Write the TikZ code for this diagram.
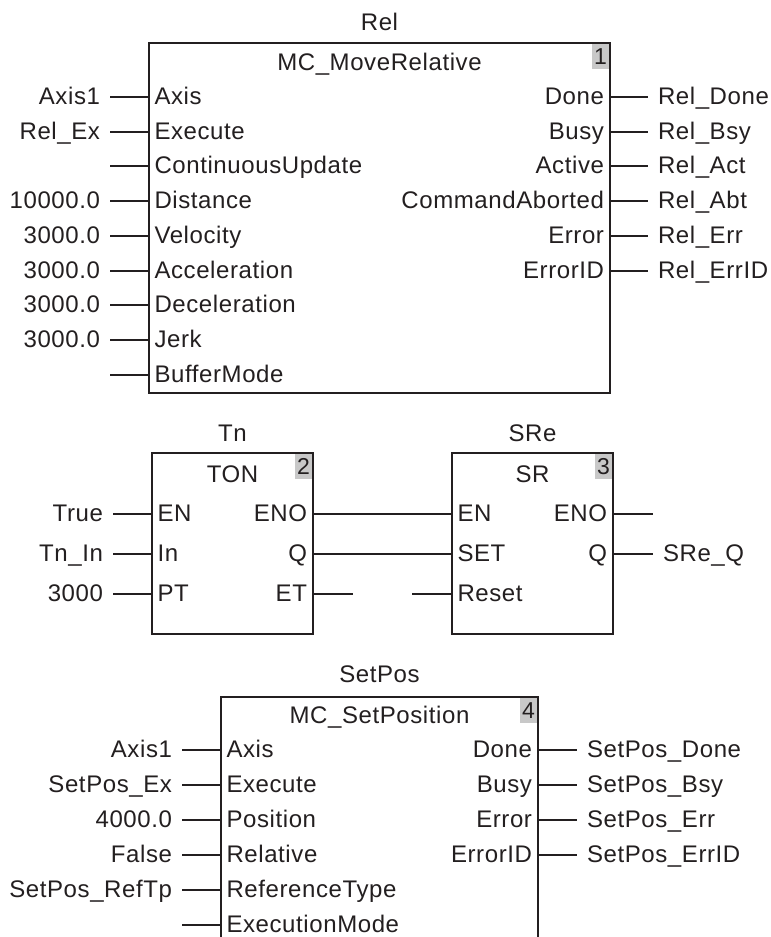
\documentclass[tikz,border=0pt]{standalone}
\usepackage{fontspec}
\setmainfont{Liberation Sans}[LetterSpace=2.5]
\usetikzlibrary{calc}
\definecolor{ink}{HTML}{231F20}
\definecolor{numgray}{HTML}{C8C8C8}
\newcommand\portL[3]{%
  \coordinate (#1-L#2) at (#1.west |- 0,#2);
  \node[lbl, anchor=base west] (#1-Lt#2) at ($(#1-L#2)+(5.5,7)$) {#3};}
\newcommand\portR[3]{%
  \coordinate (#1-R#2) at (#1.east |- 0,#2);
  \node[lbl, anchor=base east] (#1-Rt#2) at ($(#1-R#2)+(-6,7)$) {#3};}
\newcommand\pinL[5]{%
  \portL{#1}{#2}{#3}
  \coordinate (#1-Ls#2) at ($(#1-L#2)+(-#5,0)$);
  \node[lbl, anchor=base east] (#1-Lo#2) at ($(#1-Ls#2)+(-10,7)$) {#4};
  \draw[stub] (#1-L#2) -- (#1-Ls#2);}
\newcommand\pinR[5]{%
  \portR{#1}{#2}{#3}
  \coordinate (#1-Rs#2) at ($(#1-R#2)+(#5,0)$);
  \node[lbl, anchor=base west] (#1-Ro#2) at ($(#1-Rs#2)+(10,7)$) {#4};
  \draw[stub] (#1-R#2) -- (#1-Rs#2);}
\begin{document}
\begin{tikzpicture}[x=1pt,y=-1pt,
  lbl/.style={inner sep=0pt, outer sep=0pt, text=ink, font=\fontsize{24}{28}\selectfont},
  fb/.style={draw=ink, line width=1.6pt, inner sep=0pt, outer sep=0pt, anchor=north west},
  stub/.style={draw=ink, line width=1.3pt},
  num/.style={fill=numgray, minimum width=17.5pt, minimum height=25pt, inner sep=0pt, outer sep=0pt,
    anchor=north east, text=ink, font=\fontsize{23}{26}\selectfont}]
\useasboundingbox (0,0) rectangle (771,937);
\fill[white] (0,0) rectangle (771,937);
\clip (0,0) rectangle (771,937);

% ---- Block 1: MC_MoveRelative
\node[fb, minimum width=461pt, minimum height=350pt] (B1) at (149,43) {};
\node[num] (B1n) at ($(B1.north east)+(-0.8,0.8)$) {1};
\node[lbl, anchor=base] (B1title) at ($(B1.north)+(0,-13)$) {Rel};
\node[lbl, anchor=base] (B1type) at ($(B1.north)+(0,27)$) {MC\_MoveRelative};
\pinL{B1}{97}{Axis}{Axis1}{39}
\pinL{B1}{132}{Execute}{Rel\_Ex}{39}
\pinL{B1}{166}{ContinuousUpdate}{}{39}
\pinL{B1}{201}{Distance}{10000.0}{39}
\pinL{B1}{236}{Velocity}{3000.0}{39}
\pinL{B1}{271}{Acceleration}{3000.0}{39}
\pinL{B1}{305}{Deceleration}{3000.0}{39}
\pinL{B1}{340}{Jerk}{3000.0}{39}
\pinL{B1}{375}{BufferMode}{}{39}
\pinR{B1}{97}{Done}{Rel\_Done}{38}
\pinR{B1}{132}{Busy}{Rel\_Bsy}{38}
\pinR{B1}{166}{Active}{Rel\_Act}{38}
\pinR{B1}{201}{CommandAborted}{Rel\_Abt}{38}
\pinR{B1}{236}{Error}{Rel\_Err}{38}
\pinR{B1}{271}{ErrorID}{Rel\_ErrID}{38}

% ---- Block 2: TON
\node[fb, minimum width=161pt, minimum height=181pt] (TON) at (152,453) {};
\node[num] (TONn) at ($(TON.north east)+(-0.8,0.8)$) {2};
\node[lbl, anchor=base] (TONtitle) at ($(TON.north)+(0,-12)$) {Tn};
\node[lbl, anchor=base] (TONtype) at ($(TON.north)+(0,29)$) {TON};
\pinL{TON}{514}{EN}{True}{39}
\pinL{TON}{554}{In}{Tn\_In}{39}
\pinL{TON}{594}{PT}{3000}{39}
\portR{TON}{514}{ENO}
\portR{TON}{554}{Q}
\pinR{TON}{594}{ET}{}{40}

% ---- Block 3: SR
\node[fb, minimum width=161pt, minimum height=181pt] (SR) at (452,453) {};
\node[num] (SRn) at ($(SR.north east)+(-0.8,0.8)$) {3};
\node[lbl, anchor=base] (SRtitle) at ($(SR.north)+(0,-12)$) {SRe};
\node[lbl, anchor=base] (SRtype) at ($(SR.north)+(0,29)$) {SR};
\portL{SR}{514}{EN}
\portL{SR}{554}{SET}
\pinL{SR}{594}{Reset}{}{40}
\pinR{SR}{514}{ENO}{}{40}
\pinR{SR}{554}{Q}{SRe\_Q}{40}
\draw[stub] (TON-R514) -- (SR-L514);
\draw[stub] (TON-R554) -- (SR-L554);

% ---- Block 4: MC_SetPosition
\node[fb, minimum width=317pt, minimum height=270pt] (SP) at (221,697) {};
\node[num] (SPn) at ($(SP.north east)+(-0.8,0.8)$) {4};
\node[lbl, anchor=base] (SPtitle) at ($(SP.north)+(0,-15)$) {SetPos};
\node[lbl, anchor=base] (SPtype) at ($(SP.north)+(0,26)$) {MC\_SetPosition};
\pinL{SP}{750}{Axis}{Axis1}{39}
\pinL{SP}{785}{Execute}{SetPos\_Ex}{39}
\pinL{SP}{820}{Position}{4000.0}{39}
\pinL{SP}{855}{Relative}{False}{39}
\pinL{SP}{890}{ReferenceType}{SetPos\_RefTp}{39}
\pinL{SP}{925}{ExecutionMode}{}{39}
\pinR{SP}{750}{Done}{SetPos\_Done}{39}
\pinR{SP}{785}{Busy}{SetPos\_Bsy}{39}
\pinR{SP}{820}{Error}{SetPos\_Err}{39}
\pinR{SP}{855}{ErrorID}{SetPos\_ErrID}{39}
\end{tikzpicture}
\end{document}
